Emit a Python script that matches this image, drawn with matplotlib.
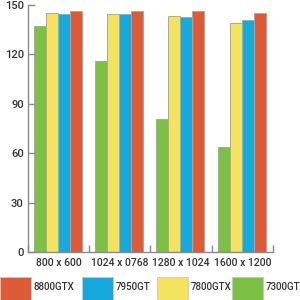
import matplotlib
matplotlib.use("Agg")
import matplotlib.pyplot as plt
from matplotlib.patches import Rectangle

plt.rcParams['font.family'] = ['Roboto', 'DejaVu Sans']

resolutions = ['800 x 600', '1024 x 0768', '1280 x 1024', '1600 x 1200']
cards = ['7300GT', '7800GTX', '7950GT', '8800GTX']
colors = ['#7cc144', '#f3e35f', '#16a9dc', '#dc5a36']
values = {
    '7300GT': [137, 116, 81, 64],
    '7800GTX': [145.5, 144.5, 143.5, 139],
    '7950GT': [144.5, 144.5, 143, 141],
    '8800GTX': [146.5, 146.5, 146.5, 145],
}
yticks = [0, 30, 60, 90, 120, 150]

text_col = '#333333'
axis_col = '#8a8a8a'

fig = plt.figure(figsize=(3, 3), dpi=100)
ax = fig.add_axes([0.093, 0.16, 0.817, 0.823])

width = 0.196
offsets = [-1.5, -0.5, 0.5, 1.5]
for card, col, off in zip(cards, colors, offsets):
    xs = [i + 0.49 + off * width for i in range(len(resolutions))]
    ax.bar(xs, values[card], width=width, color=col,
           edgecolor='#a8a8a8', linewidth=0.7)

ax.set_xlim(0, len(resolutions))
ax.set_ylim(0, 150)
ax.set_yticks(yticks)
ax.set_xticks(range(len(resolutions) + 1))
ax.set_xticklabels([])
ax.set_xticks([i + 0.5 for i in range(len(resolutions))], minor=True)
ax.set_xticklabels(resolutions, minor=True)
ax.tick_params(axis='x', which='minor', length=0, pad=4,
               labelsize=7.5, labelcolor=text_col)
ax.tick_params(axis='x', which='major', direction='in', length=5,
               width=1, color=axis_col)
ax.tick_params(axis='y', direction='in', length=5, width=1,
               color=axis_col, labelsize=8, labelcolor=text_col, pad=3)
for lbl in ax.get_xticklabels(minor=True) + ax.get_yticklabels():
    lbl.set_fontweight('medium')
for s in ['top', 'right']:
    ax.spines[s].set_visible(False)
for s in ['left', 'bottom']:
    ax.spines[s].set_color(axis_col)
    ax.spines[s].set_linewidth(1)

# legend along the bottom
leg_order = ['8800GTX', '7950GT', '7800GTX', '7300GT']
leg_x = [0, 82, 157, 232]
for name, px in zip(leg_order, leg_x):
    col = colors[cards.index(name)]
    fig.patches.append(Rectangle((px / 300, -0.02), 31 / 300, 29 / 300,
                                 transform=fig.transFigure, facecolor=col,
                                 edgecolor='#c8c8c8', linewidth=0.6))
    fig.text((px + 34) / 300, 13 / 300, name, fontsize=7, color=text_col,
             fontweight='medium', va='center', ha='left')

fig.savefig('out.png', dpi=100)
